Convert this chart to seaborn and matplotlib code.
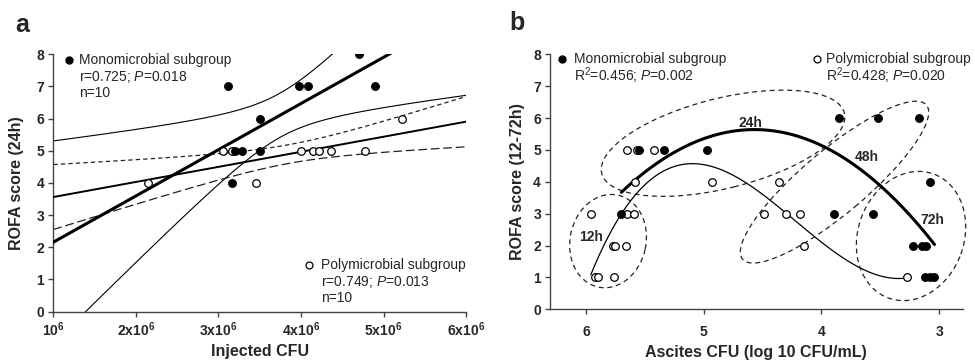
import numpy as np
import pandas as pd
import matplotlib
matplotlib.use("Agg")
import matplotlib.pyplot as plt
import matplotlib.transforms as mtransforms
from matplotlib.patches import Ellipse
import seaborn as sns

# ---------------- data ----------------
# Panel a: injected CFU vs ROFA score (24h)
a_mono_cfu = [3.12e6, 3.50e6, 3.20e6, 3.28e6, 3.50e6, 3.98e6, 4.08e6, 4.70e6, 4.90e6, 3.17e6]
a_mono_rofa = [7, 6, 5, 5, 5, 7, 7, 8, 7, 4]
a_poly_cfu = [2.15e6, 3.46e6, 3.06e6, 3.16e6, 4.00e6, 4.15e6, 4.22e6, 4.36e6, 4.78e6, 5.22e6]
a_poly_rofa = [4, 4, 5, 5, 5, 5, 5, 5, 5, 6]
a_xticks = [1e6, 2e6, 3e6, 4e6, 5e6, 6e6]
a_xticklabels = [r'$\mathbf{10^{6}}$', r'$\mathbf{2x10^{6}}$', r'$\mathbf{3x10^{6}}$',
                 r'$\mathbf{4x10^{6}}$', r'$\mathbf{5x10^{6}}$', r'$\mathbf{6x10^{6}}$']

# Panel b: ascites CFU (log10) vs ROFA score (12-72h)
b_mono_log = [5.70, 5.547, 5.336, 4.97, 3.853, 3.52, 3.173, 3.893, 3.559, 3.077,
              3.225, 3.15, 3.115, 3.118, 3.077, 3.04]
b_mono_rofa = [3, 5, 5, 5, 6, 6, 6, 3, 3, 4, 2, 2, 2, 1, 1, 1]
b_poly_log = [5.65, 5.564, 5.42, 5.586, 4.927, 4.363, 5.96, 5.654, 5.592, 4.49,
              4.30, 4.18, 5.773, 5.756, 5.657, 4.148, 5.926, 5.90, 5.759, 3.27]
b_poly_rofa = [5, 5, 5, 4, 4, 4, 3, 3, 3, 3, 3, 3, 2, 2, 2, 2, 1, 1, 1, 1]
b_xticks = [6, 5, 4, 3]
b_time_labels = ['12h', '24h', '48h', '72h']

# ---------------- style ----------------
sns.set_theme(style='ticks')
plt.rcParams['font.family'] = ['Liberation Sans', 'DejaVu Sans']
plt.rcParams['mathtext.fontset'] = 'custom'
plt.rcParams['mathtext.rm'] = 'Liberation Sans'
plt.rcParams['mathtext.it'] = 'Liberation Sans:italic'
plt.rcParams['mathtext.bf'] = 'Liberation Sans:bold'

SPINE = '#444444'
fig = plt.figure(figsize=(9.75, 3.6), dpi=100)
ax1 = fig.add_axes([0.0547, 0.1347, 0.4233, 0.7144])
ax2 = fig.add_axes([0.5641, 0.1408, 0.4233, 0.7083])

for ax in (ax1, ax2):
    sns.despine(ax=ax)
    for s in ('left', 'bottom'):
        ax.spines[s].set_color(SPINE)
        ax.spines[s].set_linewidth(1.0)
    ax.tick_params(direction='out', length=3.5, width=1.0, color=SPINE,
                   labelsize=10, pad=3)
    ax.set_ylim(0, 8)
    ax.set_yticks(range(0, 9))
    for lab in ax.get_yticklabels():
        lab.set_fontweight('bold')

# ---------------- panel a ----------------
ax1.set_xlim(1e6, 6e6)
T8 = 2.306  # t(0.975, df=8)


def ci_band(x, y, grid, t=T8):
    x = np.asarray(x, float)
    y = np.asarray(y, float)
    n = len(x)
    b1, b0 = np.polyfit(x, y, 1)
    res = y - (b0 + b1 * x)
    s = np.sqrt(np.sum(res ** 2) / (n - 2))
    sxx = np.sum((x - x.mean()) ** 2)
    se = s * np.sqrt(1.0 / n + (grid - x.mean()) ** 2 / sxx)
    fit = b0 + b1 * grid
    return fit - t * se, fit + t * se


grid = np.linspace(1e6, 6e6, 400)
lo_m, hi_m = ci_band(a_mono_cfu, a_mono_rofa, grid)
lo_p, hi_p = ci_band(a_poly_cfu, a_poly_rofa, grid)
ax1.plot(grid, hi_m, color='black', lw=0.8, zorder=2)
ax1.plot(grid, lo_m, color='black', lw=0.8, zorder=2)
ax1.plot(grid, hi_p, color='#222222', lw=0.9, ls=(0, (3.5, 2.5)), zorder=2)
ax1.plot(grid, lo_p, color='#222222', lw=0.9, ls=(0, (7, 3)), zorder=2)

sns.regplot(x=a_mono_cfu, y=a_mono_rofa, scatter=False, ci=None, truncate=False,
            line_kws=dict(color='black', lw=2.2, zorder=3), ax=ax1)
sns.regplot(x=a_poly_cfu, y=a_poly_rofa, scatter=False, ci=None, truncate=False,
            line_kws=dict(color='black', lw=1.4, zorder=3), ax=ax1)

sns.scatterplot(x=a_poly_cfu, y=a_poly_rofa, s=30, color='white', edgecolor='black',
                linewidth=0.9, ax=ax1, zorder=4)
sns.scatterplot(x=a_mono_cfu, y=a_mono_rofa, s=30, color='black', edgecolor='black',
                linewidth=0.9, ax=ax1, zorder=5)

ax1.set_xlim(1e6, 6e6)
ax1.set_ylim(0, 8)
ax1.set_xticks(a_xticks)
ax1.set_xticklabels(a_xticklabels)
ax1.set_xlabel('Injected CFU', fontsize=11.5, fontweight='bold')
ax1.set_ylabel('ROFA score (24h)', fontsize=11.5, fontweight='bold')
ax1.xaxis.set_label_coords(0.5, -0.128)
ax1.yaxis.set_label_coords(-0.070, 0.5)

# legend-like annotations panel a
ax1.plot([0.038], [0.978], 'o', ms=5, color='black', transform=ax1.transAxes, clip_on=False)
for txt, yy in zip(['Monomicrobial subgroup', r'r=0.725; $\mathit{P}$=0.018', 'n=10'],
                   [0.978, 0.913, 0.850]):
    ax1.text(0.0624, yy, txt, transform=ax1.transAxes, fontsize=10, va='center', ha='left')
ax1.plot([0.6196], [0.1808], 'o', ms=5, mfc='white', mec='black', mew=0.9,
         transform=ax1.transAxes, clip_on=False)
for txt, yy in zip(['Polymicrobial subgroup', r'r=0.749; $\mathit{P}$=0.013', 'n=10'],
                   [0.1808, 0.1159, 0.0537]):
    ax1.text(0.648, yy, txt, transform=ax1.transAxes, fontsize=10, va='center', ha='left')

# ---------------- panel b ----------------
ax2.set_xlim(6.306, 2.80)
sns.regplot(x=b_mono_log, y=b_mono_rofa, order=2, scatter=False, ci=None, truncate=True,
            line_kws=dict(color='black', lw=2.2, zorder=3), ax=ax2)
sns.regplot(x=b_poly_log, y=b_poly_rofa, order=3, scatter=False, ci=None, truncate=True,
            line_kws=dict(color='black', lw=0.9, zorder=3), ax=ax2)
sns.scatterplot(x=b_poly_log, y=b_poly_rofa, s=30, color='white', edgecolor='black',
                linewidth=0.9, ax=ax2, zorder=4)
sns.scatterplot(x=b_mono_log, y=b_mono_rofa, s=30, color='black', edgecolor='black',
                linewidth=0.9, ax=ax2, zorder=5)

# dashed ellipses grouping time points: centre (data), semi-axes (px), angle (deg)
ellipses = [(5.813, 2.14, 47, 38, 78), (4.836, 5.21, 125, 45, 14),
            (3.889, 3.99, 120, 32, 40), (3.239, 2.30, 66, 53, 70)]
for cx, cy, sa, sb, ang in ellipses:
    tr = fig.dpi_scale_trans + mtransforms.ScaledTranslation(cx, cy, ax2.transData)
    e = Ellipse((0, 0), 2 * sa / 100.0, 2 * sb / 100.0, angle=ang, fill=False,
                ls=(0, (4, 3)), lw=0.9, ec='#222222', transform=tr, zorder=2)
    ax2.add_patch(e)
    e.set_clip_on(False)

time_pos = [(5.96, 2.28), (4.607, 5.85), (3.615, 4.78), (3.058, 2.80)]
for lab, (tx, ty) in zip(b_time_labels, time_pos):
    ax2.text(tx, ty, lab, fontsize=10, fontweight='bold', ha='center', va='center', zorder=6)

ax2.set_xlim(6.306, 2.80)
ax2.set_ylim(0, 8)
ax2.set_xticks(b_xticks)
for lab in ax2.get_xticklabels():
    lab.set_fontweight('bold')
ax2.tick_params(axis='x', pad=8)
ax2.set_xlabel('Ascites CFU (log 10 CFU/mL)', fontsize=11.5, fontweight='bold')
ax2.set_ylabel('ROFA score (12-72h)', fontsize=11.5, fontweight='bold')
ax2.xaxis.set_label_coords(0.5, -0.138)
ax2.yaxis.set_label_coords(-0.061, 0.5)

ax2.plot([0.0284], [0.980], 'o', ms=5, color='black', transform=ax2.transAxes, clip_on=False)
for txt, yy in zip(['Monomicrobial subgroup', r'R$^{2}$=0.456; $\mathit{P}$=0.002'],
                   [0.980, 0.915]):
    ax2.text(0.0589, yy, txt, transform=ax2.transAxes, fontsize=10, va='center', ha='left')
ax2.plot([0.646], [0.980], 'o', ms=5, mfc='white', mec='black', mew=0.9,
         transform=ax2.transAxes, clip_on=False)
for txt, yy in zip(['Polymicrobial subgroup', r'R$^{2}$=0.428; $\mathit{P}$=0.020'],
                   [0.980, 0.915]):
    ax2.text(0.6685, yy, txt, transform=ax2.transAxes, fontsize=10, va='center', ha='left')

# panel letters
fig.text(21.7 / 975, 1 - 25 / 360, 'a', fontsize=18, fontweight='bold', ha='center', va='center')
fig.text(516.7 / 975, 1 - 23.3 / 360, 'b', fontsize=18, fontweight='bold', ha='center', va='center')

fig.savefig('out.png', dpi=100)
